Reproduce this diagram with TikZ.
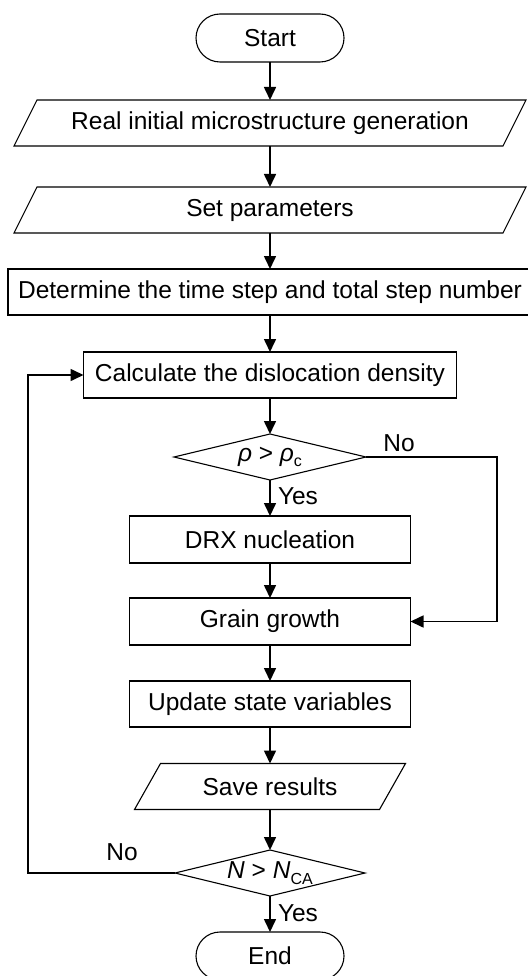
\documentclass[tikz,border=0pt]{standalone}
\usepackage{fontspec}
\setmainfont{Liberation Sans}
\usetikzlibrary{arrows.meta}

% small upright subscript used in the decision conditions
\newcommand{\lowsub}[1]{\raisebox{-0.22em}{\fontsize{16}{16}\selectfont #1}}

\begin{document}
\begin{tikzpicture}[x=1pt, y=-1pt,
  font=\fontsize{24.5}{28}\selectfont,
  every node/.style={inner sep=0pt, outer sep=0pt},
  blk/.style={minimum width=#1, minimum height=46pt},
  outline/.style={draw, line width=1.1pt},
  terminal/.style={outline, rounded corners=24pt, minimum width=148pt, minimum height=48pt},
  flow/.style={-{Triangle[length=13pt,width=12pt]}, line width=1.6pt},
  plain/.style={line width=1.6pt}
]
\useasboundingbox (0,0) rectangle (527,976);

% terminals
\node[terminal] (start) at (270,38) {Start};
\node[terminal] (stop) at (270,956) {End};

% input/output steps (parallelograms around invisible rectangles)
\node[blk=512pt] (real) at (270,123) {Real initial microstructure generation};
\node[blk=512pt] (param) at (270,210) {Set parameters};
\node[blk=271pt] (save) at (270,786.5) {Save results};
\foreach \n/\s in {real/23, param/23, save/26}{
  \draw[outline] ([xshift=\s pt]\n.north west) -- (\n.north east)
     -- ([xshift=-\s pt]\n.south east) -- (\n.south west) -- cycle;
}

% process steps
\node[blk=524pt, outline] (steps) at (270,292) {Determine the time step and total step number};
\node[blk=373pt, outline] (calc) at (270,375) {Calculate the dislocation density};
\node[blk=281pt, outline, minimum height=47pt] (drx) at (270,539.5) {DRX nucleation};
\node[blk=281pt, outline, minimum height=47pt] (grain) at (270,621.5) {Grain growth};
\node[blk=281pt, outline] (update) at (270,704) {Update state variables};

% decisions (diamonds around invisible rectangles)
\node[blk=192pt] (rho) at (270,457) {\textit{ρ} > \textit{ρ}\lowsub{c}};
\node[blk=190pt] (nca) at (270,873) {\textit{N} > \textit{N}\lowsub{CA}};
\foreach \n in {rho, nca}{
  \draw[outline] (\n.north) -- (\n.east) -- (\n.south) -- (\n.west) -- cycle;
}

% main flow
\draw[flow] (start) -- (real);
\draw[flow] (real) -- (param);
\draw[flow] (param) -- (steps);
\draw[flow] (steps) -- (calc);
\draw[flow] (calc) -- (rho);
\draw[flow] (rho) -- (drx);
\draw[flow] (drx) -- (grain);
\draw[flow] (grain) -- (update);
\draw[flow] (update) -- (save);
\draw[flow] (save) -- (nca);
\draw[flow] (nca) -- (stop);

% bypass of nucleation and the outer loop
\coordinate (loopR) at (497,457);
\coordinate (loopL) at (28,873);
\draw[flow] (rho.east) -- (loopR) |- (grain.east);
\draw[flow] (nca.west) -- (loopL) |- (calc.west);

% branch labels
\node (no1) at (399,443) {No};
\node[anchor=west] (yes1) at (278,496) {Yes};
\node (no2) at (122,852) {No};
\node[anchor=west] (yes2) at (278,913) {Yes};
\end{tikzpicture}
\end{document}
